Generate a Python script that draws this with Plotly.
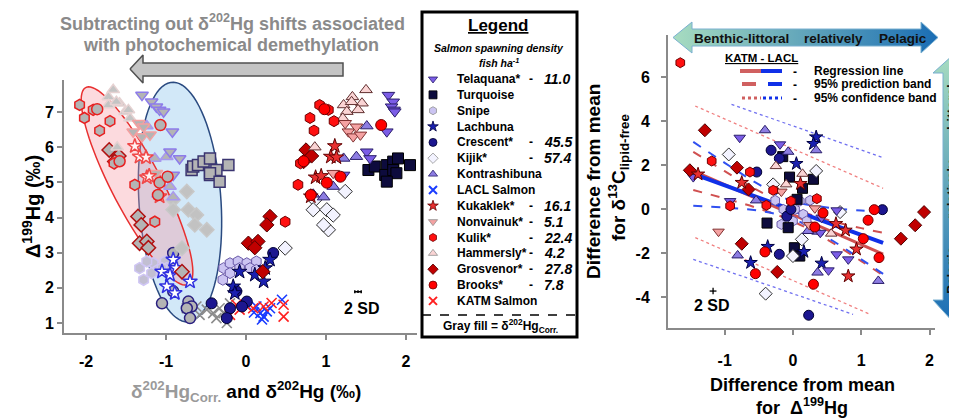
import numpy as np
import plotly.graph_objects as go

# ------------------------------------------------------------------
# LEFT PANEL DATA : Δ199Hg vs δ202Hg (coloured) and δ202Hg corr. (gray)
# ------------------------------------------------------------------
tel_d199 = [7.48, 7.29, 7.15, 7.06, 7.01, 6.44, 5.87, 5.68, 5.21]
tel_d202 = [1.78, 1.84, 1.82, 1.85, 1.86, 1.76, 1.51, 1.55, 1.22]
tel_d202c = [-1.30, -1.18, -1.12, -1.08, -1.03, -0.92, -0.95, -0.83, -0.91]

tur_d199 = [5.35, 5.45, 5.49, 5.59, 5.68, 5.49, 5.21, 5.35, 5.26, 5.02]
tur_d202 = [1.53, 1.61, 1.76, 1.84, 1.90, 2.05, 1.74, 1.84, 1.88, 1.76]
tur_d202c = [-0.68, -0.66, -0.60, -0.53, -0.45, -0.22, -0.45, -0.37, -0.45, -0.33]

snp_d199 = [2.56, 2.70, 2.75, 2.70, 2.75, 2.56, 2.51, 2.42, 2.56, 2.23]
snp_d202 = [-0.28, -0.20, -0.10, 0.01, 0.13, 0.05, 0.13, -0.20, -0.08, -0.29]
snp_d202c = [-1.33, -1.16, -1.24, -0.89, -1.01, -0.99, -1.10, -1.18, -1.05, -1.28]

lac_d199 = [2.46, 2.37, 2.18, 2.80, 2.56, 2.04, 1.85]
lac_d202 = [-0.08, 0.11, 0.22, 0.30, 0.24, -0.16, -0.14]
lac_d202c = [-1.05, -0.95, -0.70, -0.91, -0.87, -0.99, -0.89]

cre_d199 = [2.99, 1.90, 1.61, 1.47, 1.42, 1.56, 1.14]
cre_d202 = [0.34, -0.12, 0.01, -0.05, -0.20, -0.43, -0.24]
cre_d202c = [-0.91, -0.91, -0.72, -0.68, -0.74, -1.05, -0.70]

kij_d199 = [4.74, 4.50, 4.22, 4.22, 4.07, 3.65, 3.79, 3.13]
kij_d202 = [1.24, 0.86, 0.84, 1.01, 1.09, 1.03, 0.97, 0.49]
kij_d202c = [-0.74, -0.91, -0.91, -0.72, -0.62, -0.49, -0.64, -0.80]

kon_d199 = [6.60, 5.68, 5.73, 4.88, 4.58, 4.66]
kon_d202 = [1.51, 1.22, 1.38, 1.09, 0.97, 0.84]
kon_d202c = [-1.24, -1.14, -0.99, -0.95, -0.91, -1.10]

kuk_d199 = [6.03, 5.73, 5.71, 5.14, 5.18, 4.60]
kuk_d202 = [1.11, 1.06, 1.13, 0.87, 0.94, 0.81]
kuk_d202c = [-1.39, -1.33, -1.25, -1.24, -1.21, -1.08]

non_d199 = [6.68, 6.44, 6.30, 6.35, 6.58, 5.26]
non_d202 = [1.24, 1.28, 1.34, 1.43, 1.38, 1.09]
non_d202c = [-1.34, -1.41, -1.30, -1.20, -1.28, -1.12]

kul_d199 = [7.20, 7.06, 6.83, 6.47, 6.74, 5.54, 4.93, 3.88]
kul_d202 = [0.92, 1.03, 0.80, 0.85, 1.10, 0.68, 0.65, 0.49]
kul_d202c = [-2.08, -1.91, -2.02, -1.83, -1.70, -1.65, -1.39, -1.14]

ham_d199 = [7.63, 7.43, 7.20, 7.01, 7.25, 7.29, 7.06, 6.00, 6.82]
ham_d202 = [1.50, 1.33, 1.22, 1.26, 1.45, 1.32, 1.40, 0.86, 1.21]
ham_d202c = [-1.66, -1.72, -1.72, -1.51, -1.58, -1.62, -1.47, -1.61, -1.45]

gro_d199 = [5.92, 5.75, 5.59, 4.03, 3.79, 3.27, 3.32, 3.14, 2.46]
gro_d202 = [0.75, 0.82, 0.72, 0.30, 0.26, 0.03, 0.15, 0.11, 0.21]
gro_d202c = [-1.71, -1.59, -1.64, -1.35, -1.31, -1.33, -1.24, -1.22, -0.80]

bro_d199 = [6.63, 4.99, 5.16, 7.08, 5.60, 4.64]
bro_d202 = [1.69, 1.01, 1.18, 0.98, 0.72, 0.81]
bro_d202c = [-1.07, -1.08, -0.98, -1.86, -1.58, -1.10]

lsal_d202 = [0.18, 0.22, 0.13, 0.26, 0.45, 0.30, 0.20, 0.10]
lsal_d199 = [1.28, 1.18, 1.47, 1.33, 1.66, 1.42, 1.10, 1.30]
ksal_d202 = [-0.20, -0.08, -0.01, 0.09, 0.22, 0.32, 0.47, 0.47, -0.12]
ksal_d199 = [1.23, 1.38, 1.52, 1.42, 1.47, 1.57, 1.52, 1.18, 1.52]
sal_d202c = [-0.74, -0.62, -0.49, -0.41, -0.33, -0.20, -0.28, -0.58, -0.37, -0.24]
sal_d199c = [1.42, 1.47, 1.38, 1.28, 1.42, 1.56, 1.28, 1.23, 1.14, 1.00]

# ------------------------------------------------------------------
# RIGHT PANEL DATA : difference from mean (Δ199Hg , δ13C lipid-free)
# ------------------------------------------------------------------
tel_dx = [-0.78, -0.19, -1.46, -0.92, 0.64, 0.42, 0.64, 0.81, 0.52, 0.40]
tel_dy = [3.24, 2.94, 1.45, 0.36, -0.06, -0.39, -2.06, -2.29, -2.79, -1.08]
tur_dx = [-0.15, -0.05, 0.06, 0.14, 0.30, -0.38, -0.07, 0.02, 0.10]
tur_dy = [2.38, 1.45, 0.44, 0.94, 1.35, -0.64, -0.85, -1.76, -2.14]
snp_dx = [-0.26, -0.14, 0.03, 0.10, 0.25, 0.00, 0.15, -0.17, 0.20]
snp_dy = [0.39, -0.02, -0.02, 0.36, 0.39, -0.55, -0.24, -0.70, -0.55]
lac_dx = [0.05, 0.34, 0.30, -0.37, -0.62, 0.16, 0.42]
lac_dy = [2.06, 3.27, 2.97, -1.71, -2.44, -1.94, -2.47]
cre_dx = [-0.32, -0.20, -0.53, -0.09, -0.20, 0.23, 1.31, -0.03]
cre_dy = [2.67, 2.30, 1.68, -0.33, -2.06, -4.83, -0.03, -0.02]
kij_dx = [-0.94, -0.29, 0.34, 0.69, 0.13, 0.00, -0.40]
kij_dy = [2.48, 1.12, 1.73, -0.14, -1.38, -2.14, -3.85]
kon_dx = [-0.41, -0.07, 0.34, -0.54, -0.81, 0.36, 1.25, 0.36, 0.22]
kon_dy = [3.58, 2.60, 2.67, 0.39, -2.11, -2.89, -3.27, -1.03, -1.00]
kuk_dx = [-1.39, -0.75, 0.11, 0.63, 0.77, 0.93, 0.81]
kuk_dy = [1.58, 1.20, 1.15, -0.67, -0.97, -1.83, -3.05]
non_dx = [-1.09, -0.17, 0.24, 0.32]
non_dy = [-1.03, 0.79, -0.73, 0.03]
kul_dx = [-1.65, -1.19, -0.63, -0.92, -0.39, -0.29, -0.03, 0.35]
kul_dy = [6.65, 2.18, 1.68, 0.14, 0.17, 0.85, 0.36, 0.47]
ham_dx = [-0.25, -0.10, 0.14, 0.56, -0.24]
ham_dy = [1.95, 1.12, 1.60, -1.12, 0.82]
gro_dx = [-1.29, -1.51, -0.82, -0.65, -0.75, -0.23, 1.58, 1.79, 1.92]
gro_dy = [3.58, 1.76, 1.88, 0.89, -1.58, -2.86, -1.35, -0.74, -0.14]
bro_dx = [0.32, 0.44, -0.41, -0.55, 0.30, 1.10, 1.03, 1.26, 1.19]
bro_dy = [-0.82, -0.18, -1.95, -2.94, -3.42, -0.51, -1.35, -2.21, -0.03]

# regression line and bands
reg_x = [-1.46, 1.32]
lacl_reg_y = [1.60, -1.54]
katm_reg_y = [1.73, -2.05]
band_x = [-1.46, -1.0, -0.5, 0.0, 0.5, 1.0, 1.32]
lacl_dash_hi = [3.05, 2.10, 1.12, 0.35, 0.07, -0.07, -0.13]
lacl_dash_lo = [0.15, 0.06, -0.08, -0.45, -1.29, -2.29, -2.95]
katm_dash_hi = [2.60, 1.72, 0.82, 0.04, -0.49, -0.87, -1.08]
katm_dash_lo = [0.86, 0.48, 0.02, -0.56, -1.39, -2.37, -3.02]
lacl_dot_hi_x, lacl_dot_hi_y = [-0.90, 1.32], [4.76, 2.33]
lacl_dot_lo_x, lacl_dot_lo_y = [-1.46, 0.88], [-2.29, -4.79]
katm_dot_hi_x, katm_dot_hi_y = [-1.43, 1.32], [4.68, 0.94]
katm_dot_lo_x, katm_dot_lo_y = [-1.43, 1.13], [-1.30, -4.79]

# legend labels
legend_names = ["Telaquana*", "Turquoise", "Snipe", "Lachbuna", "Crescent*", "Kijik*",
                "Kontrashibuna", "LACL Salmon", "Kukaklek*", "Nonvainuk*", "Kulik*",
                "Hammersly*", "Grosvenor*", "Brooks*", "KATM Salmon"]
legend_density = ["11.0", "", "", "", "45.5", "57.4", "", "", "16.1", "5.1", "22.4",
                  "4.2", "27.8", "7.8", ""]

# ------------------------------------------------------------------
# styles
# ------------------------------------------------------------------
GRAY = "#b4b4b4"
FONT = "Liberation Sans, Arial, sans-serif"
# (symbol, fill, outline, corr fill, corr outline)
sty = {
    "Telaquana*": ("triangle-down", "#7b5de6", "#2a1e6a", GRAY, "#8d7bea"),
    "Turquoise": ("square", "#0d0b3d", "#000000", GRAY, "#3a3470"),
    "Snipe": ("hexagon", "#cbc4f2", "#6a5aa8", "#c2bfd2", "#cfc6f4"),
    "Lachbuna": ("star", "#1a20b0", "#000040", "#ffffff", "#3030e0"),
    "Crescent*": ("circle", "#1c1690", "#000030", GRAY, "#2a2080"),
    "Kijik*": ("diamond", "#f3f3ff", "#303030", "#c2c2c2", "#c8c8c8"),
    "Kontrashibuna": ("triangle-up", "#8d7de2", "#2a1e6a", GRAY, "#a898f0"),
    "LACL Salmon": ("x-thin", "#1a3cff", "#1a3cff", None, None),
    "Kukaklek*": ("star", "#e83030", "#600000", "#fff2f2", "#f04848"),
    "Nonvainuk*": ("triangle-down", "#f4a2a2", "#803030", GRAY, "#f4a0a0"),
    "Kulik*": ("hexagon", "#ff1010", "#700000", GRAY, "#e82020"),
    "Hammersly*": ("triangle-up", "#fad4d4", "#603030", "#c4c4c4", "#e6d2d2"),
    "Grosvenor*": ("diamond", "#c00000", "#500000", GRAY, "#b01010"),
    "Brooks*": ("circle", "#ff0000", "#700000", GRAY, "#e82020"),
    "KATM Salmon": ("x-thin", "#ff2020", "#ff2020", None, None),
}

# geometry: screen pixels of the 957x420 window; the page body has an 8px margin,
# so the figure itself is 949x412 and starts at (8, 8).
OFF = 8
FW, FH = 957 - OFF, 420 - OFF
LX0, LX1, LY0, LY1 = 64, 417, 80, 333
RX0, RX1, RY0, RY1 = 668, 935, 35, 328
XL = [-2.275, 2.1375]
YL = [0.716, 7.91]
XR = [-1.83, 2.08]
YR = [-5.41, 7.91]


def Y(v):  # screen row (from top) -> overlay axis coordinate
    return 420 - v


def dx(a, b):
    return [(a - OFF) / FW, (b - OFF) / FW]


def dy(top, bot):
    return [1 - (bot - OFF) / FH, 1 - (top - OFF) / FH]


fig = go.Figure()


def pts(x, y, sym, fill, line, xa, ya, size=10, lw=1.0):
    if sym == "x-thin":
        mk = dict(symbol=sym, size=size, color=line, line=dict(color=line, width=1.6))
    else:
        mk = dict(symbol=sym, size=size, color=fill, line=dict(color=line, width=lw))
    fig.add_trace(go.Scatter(x=x, y=y, mode="markers", xaxis=xa, yaxis=ya, marker=mk,
                             showlegend=False, hoverinfo="skip", cliponaxis=False))


left_sets = [
    ("Snipe", snp_d199, snp_d202, snp_d202c),
    ("Crescent*", cre_d199, cre_d202, cre_d202c),
    ("Lachbuna", lac_d199, lac_d202, lac_d202c),
    ("Kijik*", kij_d199, kij_d202, kij_d202c),
    ("Turquoise", tur_d199, tur_d202, tur_d202c),
    ("Kontrashibuna", kon_d199, kon_d202, kon_d202c),
    ("Telaquana*", tel_d199, tel_d202, tel_d202c),
    ("Grosvenor*", gro_d199, gro_d202, gro_d202c),
    ("Hammersly*", ham_d199, ham_d202, ham_d202c),
    ("Nonvainuk*", non_d199, non_d202, non_d202c),
    ("Kukaklek*", kuk_d199, kuk_d202, kuk_d202c),
    ("Kulik*", kul_d199, kul_d202, kul_d202c),
    ("Brooks*", bro_d199, bro_d202, bro_d202c),
]
# gray corrected points
pts(sal_d202c, sal_d199c, "x-thin", GRAY, "#8c8c8c", "x", "y", size=10)
for name, yv, xr, xc in left_sets:
    s = sty[name]
    pts(xc, yv, s[0], s[3], s[4], "x", "y", size=11, lw=1.5)
# raw points
pts(lsal_d202, lsal_d199, "x-thin", None, sty["LACL Salmon"][2], "x", "y", size=10)
pts(ksal_d202, ksal_d199, "x-thin", None, sty["KATM Salmon"][2], "x", "y", size=10)
for name, yv, xr, xc in left_sets:
    s = sty[name]
    pts(xr, yv, s[0], s[1], s[2], "x", "y", size=11, lw=1)

# 2 SD bar, left
fig.add_trace(go.Scatter(x=[1.40], y=[1.89], mode="markers", xaxis="x", yaxis="y",
                         marker=dict(size=1, color="black"),
                         error_x=dict(type="constant", value=0.04, color="black", thickness=1.5, width=1.5),
                         error_y=dict(type="constant", value=0.04, color="black", thickness=1.5, width=0),
                         showlegend=False, hoverinfo="skip"))

# ---------------- right panel ----------------
for xs, ys, col in [(katm_dot_hi_x, katm_dot_hi_y, "#f08080"), (katm_dot_lo_x, katm_dot_lo_y, "#f08080"),
                    (lacl_dot_hi_x, lacl_dot_hi_y, "#7070f0"), (lacl_dot_lo_x, lacl_dot_lo_y, "#7070f0")]:
    fig.add_trace(go.Scatter(x=xs, y=ys, mode="lines", xaxis="x2", yaxis="y2",
                             line=dict(color=col, width=1.3, dash="dot"), showlegend=False, hoverinfo="skip"))
for arr, col in [(katm_dash_hi, "#d05050"), (katm_dash_lo, "#d05050"),
                 (lacl_dash_hi, "#3050f0"), (lacl_dash_lo, "#3050f0")]:
    fig.add_trace(go.Scatter(x=band_x, y=arr, mode="lines", xaxis="x2", yaxis="y2",
                             line=dict(color=col, width=2, dash="dash", shape="spline"),
                             showlegend=False, hoverinfo="skip"))
fig.add_trace(go.Scatter(x=reg_x, y=katm_reg_y, mode="lines", xaxis="x2", yaxis="y2",
                         line=dict(color="#d05050", width=3), showlegend=False, hoverinfo="skip"))
fig.add_trace(go.Scatter(x=reg_x, y=lacl_reg_y, mode="lines", xaxis="x2", yaxis="y2",
                         line=dict(color="#1030e8", width=4), showlegend=False, hoverinfo="skip"))

right_sets = [
    ("Snipe", snp_dx, snp_dy), ("Turquoise", tur_dx, tur_dy), ("Crescent*", cre_dx, cre_dy),
    ("Kijik*", kij_dx, kij_dy), ("Lachbuna", lac_dx, lac_dy), ("Kontrashibuna", kon_dx, kon_dy),
    ("Telaquana*", tel_dx, tel_dy), ("Hammersly*", ham_dx, ham_dy), ("Nonvainuk*", non_dx, non_dy),
    ("Grosvenor*", gro_dx, gro_dy), ("Brooks*", bro_dx, bro_dy), ("Kulik*", kul_dx, kul_dy),
    ("Kukaklek*", kuk_dx, kuk_dy),
]
for name, xv, yv in right_sets:
    s = sty[name]
    pts(xv, yv, s[0], s[1], s[2], "x2", "y2", size=10, lw=1)

fig.add_trace(go.Scatter(x=[-1.17], y=[-3.73], mode="markers", xaxis="x2", yaxis="y2",
                         marker=dict(size=1, color="black"),
                         error_x=dict(type="constant", value=0.05, color="black", thickness=1.3, width=0),
                         error_y=dict(type="constant", value=0.15, color="black", thickness=1.3, width=0),
                         showlegend=False, hoverinfo="skip"))


# ---------------- overlay (screen pixel coordinates, y counted from top via Y()) ----------------
def poly(xs, ys, **kw):
    fig.add_trace(go.Scatter(x=xs, y=[Y(v) for v in ys], mode="lines", fill="toself", xaxis="x3", yaxis="y3",
                             showlegend=False, hoverinfo="skip", **kw))


# gray arrow (left)
poly([130, 143, 143, 343, 343, 143, 143, 130], [69, 55, 63, 63, 76, 76, 83, 69],
     fillcolor="#c4c4c4", line=dict(color="#505050", width=1.5))

# horizontal gradient arrow
poly([673, 692, 692, 921, 921, 938, 921, 921, 692, 692, 673],
     [37.5, 22, 29, 29, 22, 37.5, 53, 46, 46, 53, 37.5],
     fillgradient=dict(type="horizontal", colorscale=[[0, "#a7dcc0"], [1, "#1a6db5"]]),
     line=dict(color="#7ab0d0", width=1))
# vertical gradient arrow (bottom = blue, top = green)
poly([953, 973, 963, 963, 973, 953, 933, 943, 943, 933, 953],
     [55, 73, 73, 300, 300, 322, 300, 300, 73, 73, 55],
     fillgradient=dict(type="vertical", colorscale=[[0, "#1a6db5"], [1, "#a7dcc0"]]),
     line=dict(color="#7ab0d0", width=1))

# legend markers
for i, name in enumerate(legend_names):
    s = sty[name]
    yy = 79 + i * 15.85
    if s[0] == "x-thin":
        mk = dict(symbol="x-thin", size=8, color=s[2], line=dict(color=s[2], width=2))
    else:
        edge = "#909090" if name in ("Snipe", "Kijik*", "Hammersly*", "Nonvainuk*") else s[2]
        mk = dict(symbol=s[0], size=8, color=s[1], line=dict(color=edge, width=0.8))
    fig.add_trace(go.Scatter(x=[433], y=[Y(yy)], mode="markers", xaxis="x3", yaxis="y3",
                             marker=mk, showlegend=False, hoverinfo="skip"))

ann = []


def txt(x, y, t, size=12, color="black", xanchor="center", angle=0, family=FONT):
    ann.append(dict(x=x, y=Y(y), xref="x3", yref="y3", text=t, showarrow=False, xanchor=xanchor,
                    yanchor="middle", textangle=angle, font=dict(size=size, color=color, family=family)))


txt(232, 22, "<b>Subtracting out δ<sup>202</sup>Hg shifts associated</b>", 18, "#8a8a8a")
txt(231, 45, "<b>with photochemical demethylation</b>", 18, "#8a8a8a")

# legend box text
txt(498, 25, "<b><u>Legend</u></b>", 17)
txt(499, 48, "<b><i>Salmon spawning density</i></b>", 10.5)
txt(499, 62, "<b><i>fish ha<sup>-1</sup></i></b>", 10.5)
for i, name in enumerate(legend_names):
    yy = 79 + i * 15.85
    txt(455, yy, "<b>" + name + "</b>", 12, xanchor="left")
    if legend_density[i]:
        txt(531, yy, "<b>-</b>", 12)
        txt(542, yy, "<b><i>" + legend_density[i] + "</i></b>", 14, xanchor="left")
txt(500, 326, "<b>Gray fill = δ<sup>202</sup>Hg<sub>Corr.</sub></b>", 12)

# 2 SD labels
txt(362, 308, "<b>2 SD</b>", 16)
txt(712, 305, "<b>2 SD</b>", 16)

# axis titles
txt(31, 207, "<b>Δ<sup>199</sup>Hg (‰)</b>", 20, angle=-90)
txt(246, 391, "<b><span style='color:#9a9a9a'>δ<sup>202</sup>Hg<sub>Corr.</sub></span> and δ<sup>202</sup>Hg (‰)</b>", 19)
txt(593, 182, "<b>Difference from mean</b>", 19, angle=-90)
txt(618, 178, "<b>for δ<sup>13</sup>C<sub>lipid-free</sub></b>", 19, angle=-90)
txt(802, 385, "<b>Difference from mean</b>", 18)
txt(802, 406, "<b>for  Δ<sup>199</sup>Hg</b>", 18)

# arrows text
txt(692, 38, "<b>Benthic-littoral</b>", 13.5, "#111111", xanchor="left")
txt(802, 38, "<b>relatively</b>", 13.5, "#111111", xanchor="left")
txt(877, 38, "<b>Pelagic</b>", 13.5, "#111111", xanchor="left")
txt(951, 270, "<b>Pelagic</b>", 13.5, "#111111", angle=-90)
txt(951, 190, "<b>relatively</b>", 13.5, "#111111", angle=-90)
txt(951, 107, "<b>Littoral</b>", 13.5, "#111111", angle=-90)

# right mini legend
txt(761, 58, "<b><u>KATM - LACL</u></b>", 11.5)
txt(795, 72, "<b>-</b>", 12)
txt(795, 85, "<b>-</b>", 12)
txt(795, 99, "<b>-</b>", 12)
txt(812, 71, "<b>Regression line</b>", 12, xanchor="left")
txt(812, 84, "<b>95% prediction band</b>", 12, xanchor="left")
txt(812, 98, "<b>95% confidence band</b>", 12, xanchor="left")

shapes = []


# ellipses (left panel, data coordinates)
def ell_path(cx, cy, a, b, ang):
    t = np.linspace(0, 2 * np.pi, 90)
    th = np.radians(ang)
    px = cx + a * np.cos(t) * np.cos(th) - b * np.sin(t) * np.sin(th)
    py = cy + a * np.cos(t) * np.sin(th) + b * np.sin(t) * np.cos(th)
    xs = XL[0] + (px - LX0) / (LX1 - LX0) * (XL[1] - XL[0])
    ys = YL[1] - (py - LY0) / (LY1 - LY0) * (YL[1] - YL[0])
    return "M " + " L ".join(f"{x:.4f},{y:.4f}" for x, y in zip(xs, ys)) + " Z"


shapes.append(dict(type="path", xref="x", yref="y", layer="below", path=ell_path(180, 202, 120, 41, 86.2),
                   fillcolor="#d2e8f8", line=dict(color="#2a4a80", width=1.5)))
shapes.append(dict(type="path", xref="x", yref="y", layer="below", path=ell_path(137, 186, 111, 25, 62.5),
                   fillcolor="rgba(245,150,160,0.35)", line=dict(color="#e83030", width=1.5)))


def pline(x0, x1, y0, y1, **line):
    shapes.append(dict(type="line", xref="x3", yref="y3", x0=x0, x1=x1, y0=Y(y0), y1=Y(y1), line=line))


# legend box
shapes.append(dict(type="rect", xref="x3", yref="y3", x0=422, x1=577, y0=Y(12), y1=Y(337),
                   line=dict(color="black", width=3), fillcolor="rgba(0,0,0,0)"))
pline(422, 577, 315, 315, color="black", width=1.5, dash="dash")
# right mini legend samples
pline(740, 761, 71, 71, color="#d06060", width=4)
pline(761, 782, 71, 71, color="#1030e8", width=4)
pline(742, 756, 84, 84, color="#d06060", width=4)
pline(768, 782, 84, 84, color="#1030e8", width=4)
pline(742, 761, 98, 98, color="#d06060", width=3, dash="dot")
pline(763, 782, 98, 98, color="#1030e8", width=3, dash="dot")

axcommon = dict(showline=True, linecolor="#8a8a8a", linewidth=2, ticks="outside", ticklen=5,
                tickwidth=1.5, tickcolor="#8a8a8a", showgrid=False, zeroline=False,
                tickfont=dict(size=16, color="black", family=FONT), fixedrange=True)

fig.update_layout(
    width=FW, height=FH, margin=dict(l=0, r=0, t=0, b=0),
    paper_bgcolor="white", plot_bgcolor="rgba(0,0,0,0)",
    showlegend=False,
    xaxis=dict(domain=dx(LX0, LX1), range=XL, anchor="y", tickvals=[-2, -1, 0, 1, 2],
               ticktext=["<b>-2</b>", "<b>-1</b>", "<b>0</b>", "<b>1</b>", "<b>2</b>"],
               ticklabelstandoff=8, **axcommon),
    yaxis=dict(domain=dy(LY0, LY1), range=YL, anchor="x", tickvals=[1, 2, 3, 4, 5, 6, 7],
               ticktext=[f"<b>{v}</b>" for v in range(1, 8)], **axcommon),
    xaxis2=dict(domain=dx(RX0, RX1), range=XR, anchor="y2", tickvals=[-1, 0, 1, 2],
                ticktext=["<b>-1</b>", "<b>0</b>", "<b>1</b>", "<b>2</b>"], ticklabelstandoff=12, **axcommon),
    yaxis2=dict(domain=dy(RY0, RY1), range=YR, anchor="x2", tickvals=[-4, -2, 0, 2, 4, 6],
                ticktext=[f"<b>{v}</b>" for v in [-4, -2, 0, 2, 4, 6]], ticklabelstandoff=8, **axcommon),
    xaxis3=dict(domain=[0, 1], range=[OFF, 957], visible=False, anchor="y3", fixedrange=True),
    yaxis3=dict(domain=[0, 1], range=[0, FH], visible=False, anchor="x3", fixedrange=True),
    annotations=ann, shapes=shapes,
)

fig.write_html("out.html")
